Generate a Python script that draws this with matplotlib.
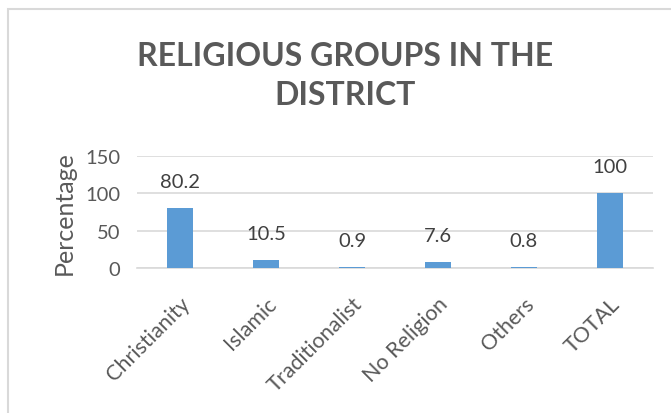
import matplotlib
matplotlib.use("Agg")
import matplotlib.pyplot as plt
from matplotlib.patches import Rectangle

categories = ["Christianity", "Islamic", "Traditionalist", "No Religion", "Others", "TOTAL"]
values = [80.2, 10.5, 0.9, 7.6, 0.8, 100]
value_labels = ["80.2", "10.5", "0.9", "7.6", "0.8", "100"]
yticks = [0, 50, 100, 150]

plt.rcParams['font.family'] = ['Lato', 'DejaVu Sans']
txt = '#595959'

fig = plt.figure(figsize=(6.71, 4.14), dpi=100)
fig.patches.append(Rectangle((8/671, -0.2), 1.2, 0.2 + 1 - 10/414, transform=fig.transFigure,
                             fill=False, edgecolor='#d9d9d9', linewidth=1.5))
ax = fig.add_axes([137/671, 1 - 269/414, (653-137)/671, (269-157)/414])

x = list(range(len(categories)))
ax.bar(x, values, width=0.31, color='#5B9BD5', zorder=3)
for xi, v, lab in zip(x, values, value_labels):
    ax.annotate(lab, (xi, v), xytext=(0, 13), textcoords='offset points',
                ha='center', va='bottom', fontsize=14.5, color='#404040')

ax.set_xlim(-0.5, len(categories) - 0.5)
ax.set_ylim(0, 150)
ax.set_yticks(yticks)
ax.yaxis.grid(True, color='#d9d9d9', linewidth=1.2, zorder=0)
ax.set_axisbelow(True)
for s in ['top', 'right', 'left']:
    ax.spines[s].set_visible(False)
ax.spines['bottom'].set_color('#d9d9d9')
ax.spines['bottom'].set_linewidth(1.2)
ax.tick_params(axis='both', length=0, colors=txt, labelsize=14.5)
ax.tick_params(axis='y', pad=12)
ax.set_xticks(x)
ax.set_xticklabels(categories, rotation=45, ha='right', rotation_mode='anchor', fontsize=15.5)
ax.tick_params(axis='x', pad=18)
ax.set_ylabel("Percentage", fontsize=18, color=txt, labelpad=7)

fig.text(345/671, 1 - 76/414, "RELIGIOUS GROUPS IN THE\nDISTRICT", ha='center', va='center',
         fontsize=23, fontweight='bold', color=txt, linespacing=1.45)

fig.savefig("out.png", dpi=100)
